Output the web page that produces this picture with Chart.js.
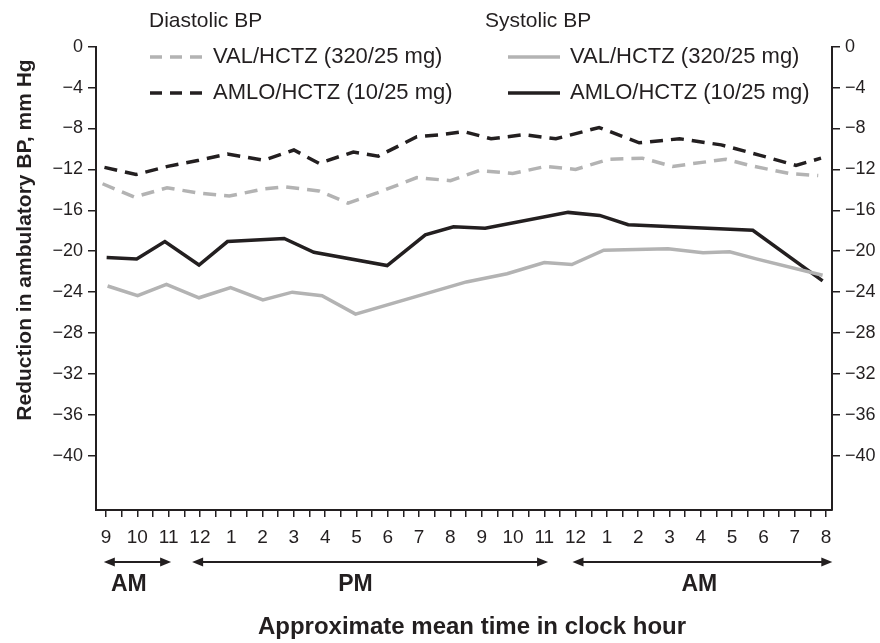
<!DOCTYPE html>
<html>
<head>
<meta charset="utf-8">
<script src="https://cdn.jsdelivr.net/npm/chart.js@4.4.0/dist/chart.umd.min.js"></script>
<style>
  html, body { margin: 0; padding: 0; background: #fff; }
  #bp { display: block; }
</style>
</head>
<body>
<canvas id="bp" width="880" height="643"></canvas>
<script>
// hour axis: 9 = 9 AM, 24 = midnight, 32 = 8 AM next day
const hourTicks = [9, 10, 11, 12, 13, 14, 15, 16, 17, 18, 19, 20, 21, 22, 23, 24, 25, 26, 27, 28, 29, 30, 31, 32];
const yTicks = [0, -4, -8, -12, -16, -20, -24, -28, -32, -36, -40];

const valDiaHours = [8.89, 9.9, 10.95, 11.93, 12.94, 14.05, 14.69, 15.8, 16.73, 17.66, 18.93, 20.0, 20.93, 21.99, 23.05, 24.0, 25.06, 26.13, 27.1, 28.8, 29.55, 30.82, 31.75];
const valDiaValues = [-13.4, -14.7, -13.8, -14.3, -14.6, -13.9, -13.7, -14.1, -15.3, -14.3, -12.8, -13.1, -12.1, -12.4, -11.7, -12.0, -11.0, -10.9, -11.7, -11.0, -11.6, -12.4, -12.6];

const amloDiaHours = [8.95, 9.96, 10.97, 11.97, 12.88, 14.04, 15.0, 15.8, 16.9, 17.7, 18.93, 19.7, 20.42, 21.3, 22.35, 23.37, 24.75, 26.03, 27.32, 28.65, 29.87, 31.04, 31.84];
const amloDiaValues = [-11.8, -12.5, -11.7, -11.1, -10.5, -11.1, -10.1, -11.4, -10.3, -10.7, -8.8, -8.6, -8.3, -9.0, -8.6, -9.0, -7.9, -9.4, -9.0, -9.6, -10.6, -11.6, -10.9];

const valSysHours = [9.05, 10.01, 10.93, 11.97, 12.98, 14.01, 14.95, 15.9, 16.97, 20.51, 21.81, 23.0, 23.88, 24.9, 26.95, 28.07, 28.92, 29.77, 31.89];
const valSysValues = [-23.4, -24.35, -23.25, -24.55, -23.55, -24.75, -24.0, -24.35, -26.15, -23.0, -22.2, -21.1, -21.3, -19.9, -19.75, -20.15, -20.05, -20.75, -22.35];

const amloSysHours = [9.02, 9.98, 10.88, 11.97, 12.88, 14.69, 15.64, 17.98, 19.2, 20.1, 21.11, 23.76, 24.77, 25.68, 29.66, 31.89];
const amloSysValues = [-20.6, -20.75, -19.05, -21.35, -19.05, -18.75, -20.1, -21.4, -18.4, -17.6, -17.75, -16.2, -16.5, -17.4, -17.95, -22.9];

const seriesNames = ['VAL/HCTZ (320/25 mg)', 'AMLO/HCTZ (10/25 mg)'];
const periods = [
  { label: 'AM', from: 8.93, to: 11.08, at: 9.73 },
  { label: 'PM', from: 11.75, to: 23.12, at: 16.97 },
  { label: 'AM', from: 23.9, to: 32.2, at: 27.95 }
];

const GRAY = '#b3b3b3';
const BLACK = '#231f20';
const FONT = "'Liberation Sans', Arial, Helvetica, sans-serif";
const DASH = [13, 8];

function pts(hours, values) {
  return hours.map((h, i) => ({ x: h, y: values[i] }));
}

function hourLabel(v) {
  if (Math.abs(v - Math.round(v)) > 0.01) return '';
  return String(((Math.round(v) - 1) % 12) + 1);
}

function yLabel(v) {
  return v === 0 ? '0' : '\u2212' + Math.abs(v);
}

function arrowHead(ctx, x, y, dir) {
  ctx.beginPath();
  ctx.moveTo(x, y);
  ctx.lineTo(x - dir * 11, y - 4.5);
  ctx.lineTo(x - dir * 11, y + 4.5);
  ctx.closePath();
  ctx.fill();
}

const extras = {
  id: 'extras',
  afterDraw(chart) {
    const ctx = chart.ctx;
    const xs = chart.scales.x;
    ctx.save();
    ctx.fillStyle = BLACK;
    ctx.strokeStyle = BLACK;

    // legend block
    ctx.font = '21px ' + FONT;
    ctx.textBaseline = 'middle';
    ctx.textAlign = 'left';
    ctx.fillText('Diastolic BP', 149, 21);
    ctx.fillText('Systolic BP', 485, 21);
    ctx.font = '22px ' + FONT;
    const rows = [57, 93];
    const colors = [GRAY, BLACK];
    rows.forEach((ry, i) => {
      ctx.lineWidth = 3.5;
      ctx.strokeStyle = colors[i];
      ctx.setLineDash([12, 8]);
      ctx.beginPath(); ctx.moveTo(150, ry); ctx.lineTo(204, ry); ctx.stroke();
      ctx.setLineDash([]);
      ctx.beginPath(); ctx.moveTo(508, ry); ctx.lineTo(560, ry); ctx.stroke();
      ctx.fillStyle = BLACK;
      ctx.fillText(seriesNames[i], 213, ry);
      ctx.fillText(seriesNames[i], 570, ry);
    });

    // AM / PM arrows
    ctx.strokeStyle = BLACK;
    ctx.fillStyle = BLACK;
    ctx.lineWidth = 2;
    const ay = 562;
    periods.forEach(p => {
      const x1 = xs.getPixelForValue(p.from);
      const x2 = xs.getPixelForValue(p.to);
      ctx.beginPath(); ctx.moveTo(x1 + 4, ay); ctx.lineTo(x2 - 4, ay); ctx.stroke();
      arrowHead(ctx, x1, ay, -1);
      arrowHead(ctx, x2, ay, 1);
      ctx.font = 'bold 23px ' + FONT;
      ctx.textAlign = 'center';
      ctx.fillText(p.label, xs.getPixelForValue(p.at), 585);
    });

    // axis titles
    ctx.font = 'bold 24px ' + FONT;
    ctx.textAlign = 'center';
    ctx.fillText('Approximate mean time in clock hour', 472, 627);
    ctx.save();
    ctx.translate(25, 240);
    ctx.rotate(-Math.PI / 2);
    ctx.font = 'bold 21px ' + FONT;
    ctx.fillText('Reduction in ambulatory BP, mm Hg', 0, 0);
    ctx.restore();
    ctx.restore();
  }
};

const fixTicks = axis => { axis.ticks = yTicks.map(v => ({ value: v })); };

const yCommon = {
  type: 'linear',
  min: -45.3,
  max: 0,
  afterBuildTicks: fixTicks,
  grid: { drawOnChartArea: false, drawTicks: true, tickLength: 8, color: BLACK, lineWidth: 1.5 },
  border: { display: true, color: BLACK, width: 2 },
  ticks: { color: BLACK, font: { family: FONT, size: 18 }, padding: 5, callback: yLabel }
};

new Chart(document.getElementById('bp'), {
  type: 'line',
  data: {
    datasets: [
      { label: 'Diastolic ' + seriesNames[0], data: pts(valDiaHours, valDiaValues), borderColor: GRAY, borderDash: DASH },
      { label: 'Systolic ' + seriesNames[0], data: pts(valSysHours, valSysValues), borderColor: GRAY },
      { label: 'Diastolic ' + seriesNames[1], data: pts(amloDiaHours, amloDiaValues), borderColor: BLACK, borderDash: DASH },
      { label: 'Systolic ' + seriesNames[1], data: pts(amloSysHours, amloSysValues), borderColor: BLACK }
    ]
  },
  options: {
    responsive: false,
    animation: false,
    layout: { padding: { top: 46.7, left: 0, right: 0, bottom: 0 } },
    elements: {
      line: { borderWidth: 3.5, tension: 0, fill: false, borderCapStyle: 'butt', borderJoinStyle: 'miter' },
      point: { radius: 0, hoverRadius: 0 }
    },
    plugins: { legend: { display: false }, tooltip: { enabled: false } },
    scales: {
      x: {
        type: 'linear',
        min: 8.68,
        max: 32.19,
        afterFit: s => { s.height = 133; },
        grid: { drawOnChartArea: false, drawTicks: true, tickLength: 7, color: BLACK, lineWidth: 1.5 },
        border: { display: true, color: BLACK, width: 2 },
        ticks: {
          stepSize: 0.5,
          includeBounds: false,
          autoSkip: false,
          maxRotation: 0,
          color: BLACK,
          padding: 9,
          font: { family: FONT, size: 19 },
          callback: hourLabel
        }
      },
      y: Object.assign({ position: 'left', afterFit: s => { s.width = 96; } }, yCommon),
      y2: Object.assign({ position: 'right', afterFit: s => { s.width = 48; } }, yCommon)
    }
  },
  plugins: [extras]
});
</script>
</body>
</html>
